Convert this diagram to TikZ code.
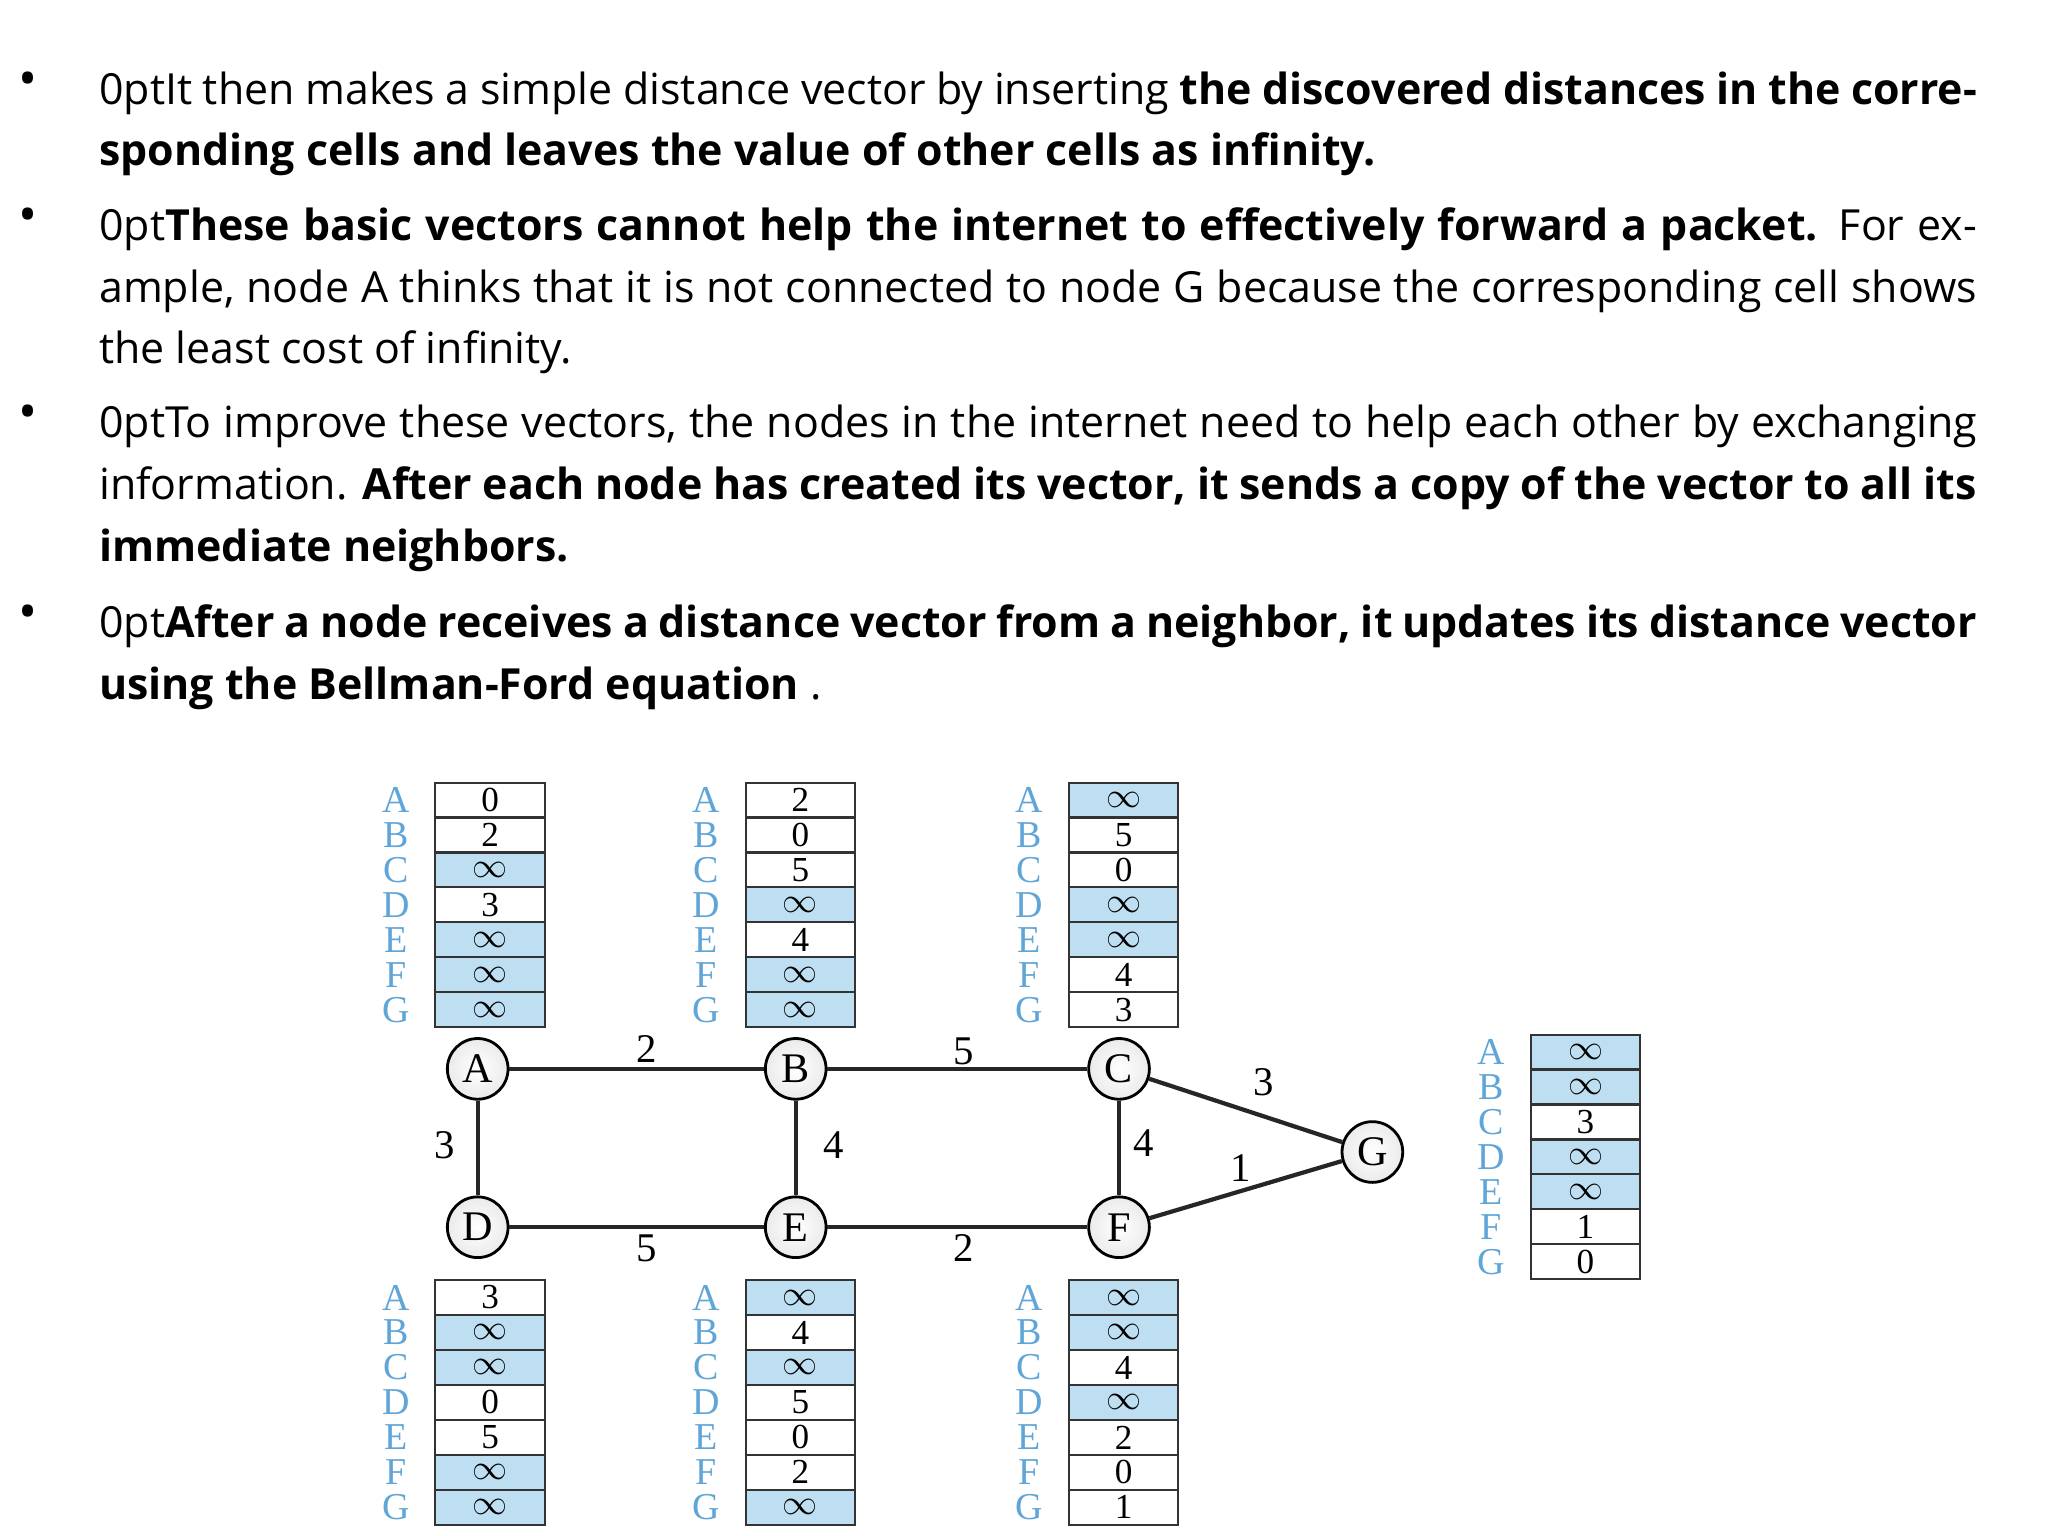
\documentclass[tikz,border=0pt]{standalone}
\usepackage{fontspec}
\setmainfont{Open Sans}
\newfontfamily\tnr{Liberation Serif}
\begin{document}
\begin{tikzpicture}[x=0.03299cm,y=-0.03299cm,
  para/.style={anchor=north west,inner sep=0pt,text width=1423*0.03299cm,align=justify,font=\fontsize{30.5}{44}\selectfont\hyphenpenalty=10000\exhyphenpenalty=10000},
  bul/.style={anchor=north west,inner sep=0pt,font=\fontsize{36}{44}\selectfont},
  cell/.style={draw=black!80,line width=1.4pt,minimum width=83*0.03299cm,minimum height=26.4*0.03299cm,inner sep=0pt,font=\tnr\fontsize{25}{25}\selectfont},
  lett/.style={inner sep=0pt,text=lblue,font=\tnr\fontsize{27}{27}\selectfont},
  gnode/.style={circle,draw=black,line width=2pt,fill=white,inner color=white,outer color=black!8,minimum size=46*0.03299cm,inner sep=0pt,font=\tnr\fontsize{30}{30}\selectfont},
  edge/.style={line width=3pt,black!85},
  elab/.style={inner sep=0pt,font=\tnr\fontsize{29}{29}\selectfont}]
\definecolor{lblue}{RGB}{95,165,215}
\definecolor{b}{RGB}{190,222,242}
\colorlet{w}{white}
\useasboundingbox (0,0) rectangle (1552,1164);
\fill[white] (0,0) rectangle (1552,1164);
\newcommand\bi{$\infty$}
\node[bul] (b1) at (14,54) {•};
\node[para] (p1) at (75,54) {It then makes a simple distance vector by inserting \textbf{the discovered distances in the corresponding cells and leaves the value of other cells as infinity.}};
\node[bul] (b2) at (14,157) {•};
\node[para] (p2) at (75,157) {\textbf{These basic vectors cannot help the internet to effectively forward a packet.} For example, node A thinks that it is not connected to node G because the corresponding cell shows the least cost of infinity.};
\node[bul] (b3) at (14,307) {•};
\node[para] (p3) at (75,307) {To improve these vectors, the nodes in the internet need to help each other by exchanging information. \textbf{After each node has created its vector, it sends a copy of the vector to all its immediate neighbors.}};
\node[bul] (b4) at (14,458) {•};
\node[para] (p4) at (75,458) {\textbf{After a node receives a distance vector from a neighbor, it updates its distance vector using the Bellman-Ford equation} .};
\newcommand\vtab[4]{%
  \foreach \c/\v [count=\i] in {#3} {
    \node[cell,fill=\c] (#4c\i) at (#1+41.5,{#2+(\i-0.5)*26.5}) {\v};
  }
  \foreach \L [count=\i] in {A,B,C,D,E,F,G} {
    \node[lett] (#4l\i) at (#1-30,{#2+(\i-0.5)*26.5}) {\L};
  }}
\vtab{330}{593}{w/0,w/2,b/\bi,w/3,b/\bi,b/\bi,b/\bi}{ta}
\vtab{565}{593}{w/2,w/0,w/5,b/\bi,w/4,b/\bi,b/\bi}{tb}
\vtab{810}{593}{b/\bi,w/5,w/0,b/\bi,b/\bi,w/4,w/3}{tc}
\vtab{1160}{784}{b/\bi,b/\bi,w/3,b/\bi,b/\bi,w/1,w/0}{tg}
\vtab{330}{970}{w/3,b/\bi,b/\bi,w/0,w/5,b/\bi,b/\bi}{td}
\vtab{565}{970}{b/\bi,w/4,b/\bi,w/5,w/0,w/2,b/\bi}{te}
\vtab{810}{970}{b/\bi,b/\bi,w/4,b/\bi,w/2,w/0,w/1}{tf}
\node[gnode] (A) at (362,810) {A};
\node[gnode] (B) at (603,810) {B};
\node[gnode] (C) at (848,810) {C};
\node[gnode] (D) at (362,930) {D};
\node[gnode] (E) at (603,930) {E};
\node[gnode] (F) at (848,930) {F};
\node[gnode] (G) at (1040,873) {G};
\draw[edge] (A) -- (B);
\draw[edge] (B) -- (C);
\draw[edge] (A) -- (D);
\draw[edge] (B) -- (E);
\draw[edge] (C) -- (F);
\draw[edge] (D) -- (E);
\draw[edge] (E) -- (F);
\draw[edge] (C) -- (G);
\draw[edge] (F) -- (G);
\node[elab] (l1) at (490,795) {2};
\node[elab] (l2) at (730,797) {5};
\node[elab] (l3) at (337,868) {3};
\node[elab] (l4) at (632,868) {4};
\node[elab] (l5) at (867,866) {4};
\node[elab] (l6) at (958,820) {3};
\node[elab] (l7) at (940,885) {1};
\node[elab] (l8) at (490,946) {5};
\node[elab] (l9) at (730,946) {2};
\end{tikzpicture}
\end{document}
